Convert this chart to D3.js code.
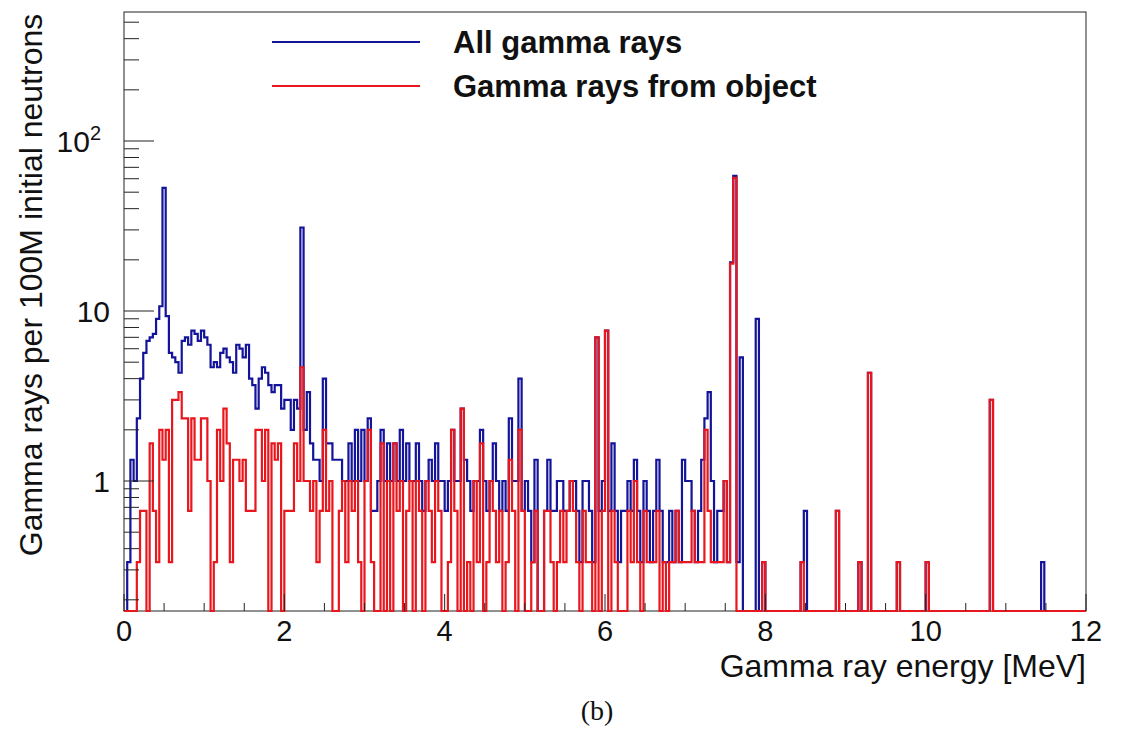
<!DOCTYPE html>
<html><head><meta charset="utf-8">
<script src="https://cdn.jsdelivr.net/npm/d3@7"></script>
<style>body{margin:0;background:#fff} svg{display:block}</style>
</head><body>
<svg id="chart" width="1121" height="753"></svg>
<script>
// ---- data (counts per bin, 300M simulated neutrons; plotted per 100M) ----
const binWidth = 0.04; // MeV
const countsPer100M = 3;
const allGammaCounts = [
  0,1,4,3,7,12,17,20,21,22,
  27,32,159,28,17,16,15,13,20,21,
  19,23,22,20,23,21,19,14,15,14,
  17,18,16,15,13,19,18,16,19,12,
  11,8,12,14,13,11,10,11,11,8,
  9,9,6,9,8,93,
  6,10,5,4,4,3,12,5,5,4,
  4,4,3,3,5,3,6,3,6,3,
  7,2,2,3,6,3,5,3,5,3,
  6,3,5,3,3,5,3,2,3,4,
  3,5,3,3,2,3,6,3,3,8,
  4,3,2,3,3,6,3,2,3,5,
  3,2,3,2,7,3,3,12,2,3,
  2,1,4,0,0,2,4,2,2,3,
  3,2,2,3,3,2,1,3,3,2,
  1,21,2,3,23,2,5,2,1,2,
  2,3,2,4,2,1,3,2,1,2,
  4,2,1,1,2,1,2,1,4,3,
  3,2,1,2,4,7,10,3,1,2,
  2,3,
  1,58,187,1,16,0,0,0,0,27,
  0,1,0,0,0,0,0,0,0,0,
  0,0,0,1,2,0,0,0,0,0,
  0,0,0,0,2,0,0,0,0,0,
  0,1,0,0,13,0,0,0,0,0,
  0,0,0,1,0,0,0,0,0,0,
  0,0,1,0,0,0,0,0,0,0,
  0,0,0,0,0,0,0,0,0,0,
  0,0,9,0,0,0,0,0,0,0,
  0,0,0,0,0,0,0,0,1,0,
  0,0,0,0,0,0,0,0,0,0,
  0,0
];
const objectGammaCounts = [
  0,0,0,0,1,2,2,0,5,2,
  1,6,4,6,1,9,9,10,7,7,
  2,7,4,4,7,7,3,0,1,6,
  3,8,5,1,4,4,3,4,2,2,
  2,6,6,3,6,0,5,4,5,0,
  2,2,2,5,3,14,
  3,3,2,3,1,2,6,2,3,0,
  0,2,3,1,3,2,3,1,0,3,
  6,1,0,0,5,0,3,0,5,2,
  3,0,2,3,0,3,2,0,3,2,
  1,3,2,0,0,1,6,2,0,8,
  0,1,0,3,1,5,0,1,3,2,
  1,2,0,1,4,2,0,6,2,0,
  0,1,2,0,0,2,2,1,0,1,
  2,1,2,3,2,1,0,2,1,1,
  0,21,0,2,23,0,2,1,0,0,
  0,2,1,3,1,0,2,1,1,1,
  2,0,1,0,1,1,2,1,1,1,
  1,2,1,1,1,6,2,1,1,1,
  1,3,
  1,57,182,0,0,0,0,0,0,0,
  0,1,0,0,0,0,0,0,0,0,
  0,0,0,1,0,0,0,0,0,0,
  0,0,0,0,2,0,0,0,0,0,
  0,1,0,0,13,0,0,0,0,0,
  0,0,0,1,0,0,0,0,0,0,
  0,0,1,0,0,0,0,0,0,0,
  0,0,0,0,0,0,0,0,0,0,
  0,0,9,0,0,0,0,0,0,0,
  0,0,0,0,0,0,0,0,0,0,
  0,0,0,0,0,0,0,0,0,0,
  0,0
];
const seriesNames = ["All gamma rays", "Gamma rays from object"];
const seriesColors = ["#14149a", "#e8171d"];
const xTickValues = [0, 2, 4, 6, 8, 10, 12];
const yTickValues = [1, 10, 100];
const yTickLabels = ["1", "10", "10"];
const yTickSup = ["", "", "2"];
const xTitle = "Gamma ray energy [MeV]";
const yTitle = "Gamma rays per 100M initial neutrons";
const caption = "(b)";

// ---- layout ----
const L = 124, R = 1086, T = 12, B = 611;
const svg = d3.select("#chart");
const font = "'Liberation Sans', Arial, Helvetica, sans-serif";

const x = d3.scaleLinear().domain([0, 12]).range([L, R]);
const y = d3.scaleLog().domain([0.1719, 574]).range([B, T]);

function histPath(counts) {
  const vals = counts.map(c => c / countsPer100M);
  let d = "";
  vals.forEach((v, i) => {
    const x0 = x(i * binWidth), x1 = x((i + 1) * binWidth);
    const yy = v > y.domain()[0] ? y(v) : B;
    d += (i === 0 ? `M${x0},${yy}` : `V${yy}`) + `H${x1}`;
  });
  return d;
}

// frame
svg.append("rect").attr("x", L).attr("y", T).attr("width", R - L).attr("height", B - T)
  .attr("fill", "none").attr("stroke", "#222").attr("stroke-width", 1);

const g = svg.append("g");
[allGammaCounts, objectGammaCounts].forEach((arr, k) => {
  g.append("path").attr("d", histPath(arr)).attr("fill", "none")
    .attr("stroke", seriesColors[k]).attr("stroke-width", 2.2)
    .attr("stroke-linejoin", "miter");
});

// x ticks
const xMinor = d3.range(0, 12.001, 0.5);
svg.append("g").selectAll("line").data(xMinor).join("line")
  .attr("x1", d => x(d)).attr("x2", d => x(d))
  .attr("y1", B).attr("y2", d => B - (Math.abs(d % 2) < 1e-9 ? 17 : 8))
  .attr("stroke", "#222").attr("stroke-width", 1);
svg.append("g").selectAll("text").data(xTickValues).join("text")
  .attr("x", d => x(d)).attr("y", 641).attr("text-anchor", "middle")
  .attr("font-family", font).attr("font-size", 29).attr("fill", "#111")
  .text(d => d);

// y ticks (log)
const yTickAll = [];
[0.1, 1, 10, 100].forEach(dec => { for (let m = 1; m <= 9; m++) yTickAll.push(dec * m); });
const yTicksIn = yTickAll.filter(v => v >= y.domain()[0] && v <= y.domain()[1]);
svg.append("g").selectAll("line").data(yTicksIn).join("line")
  .attr("x1", L).attr("x2", d => L + (yTickValues.some(t => Math.abs(t - d) < 1e-9) ? 30 : 15))
  .attr("y1", d => y(d)).attr("y2", d => y(d))
  .attr("stroke", "#222").attr("stroke-width", 1);
const yl = svg.append("g").selectAll("text").data(yTickValues).join("text")
  .attr("x", (d, i) => yTickSup[i] ? 101 : 110).attr("y", d => y(d) + 11)
  .attr("text-anchor", "end")
  .attr("font-family", font).attr("font-size", 30).attr("fill", "#111");
yl.append("tspan").text((d, i) => yTickLabels[i]);
yl.append("tspan").attr("dy", -12).attr("font-size", 20).text((d, i) => yTickSup[i]);

// axis titles
svg.append("text").attr("x", R).attr("y", 677).attr("text-anchor", "end")
  .attr("font-family", font).attr("font-size", 32).attr("fill", "#111").text(xTitle);
svg.append("text").attr("transform", `translate(42,${(10 + 560) / 2}) rotate(-90)`)
  .attr("text-anchor", "middle")
  .attr("font-family", font).attr("font-size", 32).attr("fill", "#111").text(yTitle);

// legend
const legY = [42, 86];
seriesNames.forEach((name, k) => {
  svg.append("line").attr("x1", 272).attr("x2", 420).attr("y1", legY[k]).attr("y2", legY[k])
    .attr("stroke", seriesColors[k]).attr("stroke-width", 2.2);
  svg.append("text").attr("x", 453).attr("y", legY[k] + 11)
    .attr("font-family", font).attr("font-weight", "bold").attr("font-size", 31)
    .attr("fill", "#111").text(name);
});

// caption
svg.append("text").attr("x", 597).attr("y", 720).attr("text-anchor", "middle")
  .attr("font-family", "'Liberation Serif', 'DejaVu Serif', serif").attr("font-size", 28)
  .attr("fill", "#111").text(caption);
</script>
</body></html>
